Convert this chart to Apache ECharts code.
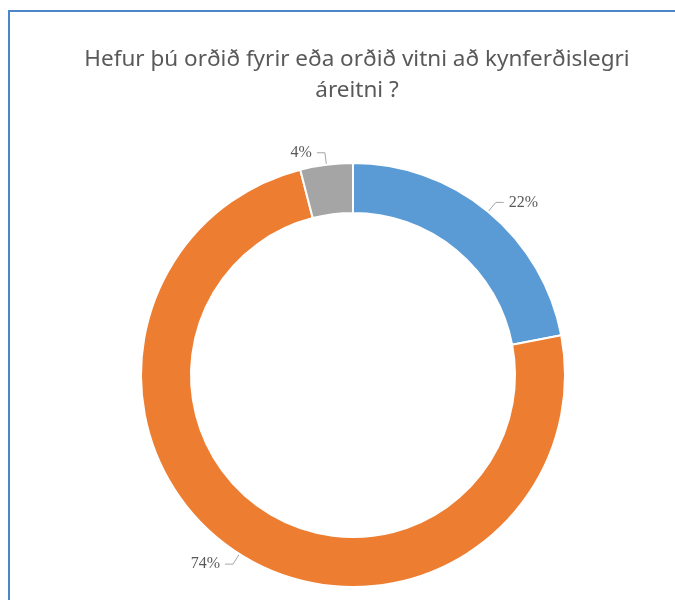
<!DOCTYPE html>
<html>
<head>
<meta charset="utf-8">
<script src="https://cdn.jsdelivr.net/npm/echarts@6/dist/echarts.min.js"></script>
<style>
  html, body { margin: 0; padding: 0; background: #fff; }
  #main { width: 675px; height: 600px; }
</style>
</head>
<body>
<div id="main"></div>
<script>
var categories = ['Já', 'Nei', 'Veit ekki'];
var values = [22, 74, 4];
var colors = ['#5b9bd5', '#ed7d31', '#a5a5a5'];
var titleText = 'Hefur þú orðið fyrir eða orðið vitni að kynferðislegri\náreitni ?';

var chart = echarts.init(document.getElementById('main'));

var data = [];
for (var i = 0; i < categories.length; i++) {
    data.push({ name: categories[i], value: values[i], itemStyle: { color: colors[i] } });
}

var option = {
    backgroundColor: '#fff',
    animation: false,
    title: {
        text: titleText,
        left: 352,
        textAlign: 'center',
        top: 39,
        textStyle: {
            fontFamily: 'Noto Sans',
            fontSize: 22.5,
            fontWeight: 'normal',
            color: '#595959',
            lineHeight: 31
        }
    },
    graphic: [{
        type: 'rect',
        shape: { x: 9, y: 11, width: 720, height: 640 },
        style: { fill: 'none', stroke: '#4a86c8', lineWidth: 2 },
        silent: true
    }],
    series: [{
        type: 'pie',
        center: [353, 375],
        radius: [162, 212],
        startAngle: 90,
        clockwise: true,
        data: data,
        itemStyle: { borderColor: '#fff', borderWidth: 2 },
        label: {
            show: true,
            position: 'outside',
            formatter: '{d}%',
            fontFamily: 'Liberation Serif',
            fontSize: 16,
            color: '#595959'
        },
        labelLine: {
            show: true,
            length: 12,
            length2: 8,
            lineStyle: { color: '#a6a6a6', width: 1 }
        }
    }]
};

chart.setOption(option);
window.addEventListener('resize', function () {
    chart.resize();
});
</script>
</body>
</html>
